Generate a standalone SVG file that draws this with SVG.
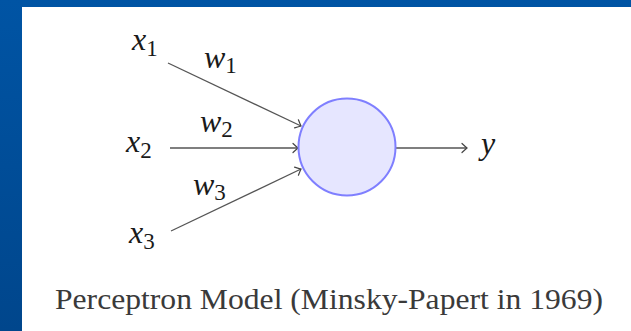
<svg xmlns="http://www.w3.org/2000/svg" width="631" height="331" viewBox="0 0 631 331">
<defs>
<linearGradient id="bg" x1="0" y1="0" x2="0" y2="1">
<stop offset="0" stop-color="#0054a4"/>
<stop offset="1" stop-color="#00468c"/>
</linearGradient>
<marker id="arr" markerUnits="userSpaceOnUse" markerWidth="14" markerHeight="14" refX="0" refY="0" viewBox="-10 -7 14 14" orient="auto">
<path d="M -5 -4.5 Q -1.5 -1.2 0 0 Q -1.5 1.2 -5 4.5" fill="none" stroke="#444" stroke-width="1.2" stroke-linecap="round"/>
</marker>
<style>
.m{font-style:italic;fill:#1a1a1a}
.big{font-size:32px}
.sub{font-size:23px;font-style:normal}
.ln{stroke:#555;stroke-width:1.3;fill:none;marker-end:url(#arr)}
.cap{font-size:30px;fill:#3a3a3a}
</style>
</defs>
<rect x="0" y="0" width="631" height="331" fill="url(#bg)"/>
<rect x="22" y="7" width="609" height="324" fill="#ffffff"/>
<g id="connectors">
<line class="ln" x1="168" y1="63" x2="301" y2="126"/>
<line class="ln" x1="170" y1="148" x2="298" y2="148"/>
<line class="ln" x1="171" y1="231" x2="301" y2="169"/>
<line class="ln" x1="396" y1="148" x2="467" y2="148"/>
</g>
<g id="neuron">
<circle cx="347" cy="147" r="48.5" fill="#e6e6ff" stroke="#7f7fff" stroke-width="2"/>
</g>
<g font-family="'Liberation Serif', 'DejaVu Serif', 'Times New Roman', serif">
<g id="x1"><text class="m big" x="132" y="50">x<tspan class="sub" dy="6">1</tspan></text></g>
<g id="x2"><text class="m big" x="126" y="152">x<tspan class="sub" dy="6">2</tspan></text></g>
<g id="x3"><text class="m big" x="129" y="243">x<tspan class="sub" dy="6">3</tspan></text></g>
<g id="w1"><text class="m big" x="204" y="68">w<tspan class="sub" dy="5">1</tspan></text></g>
<g id="w2"><text class="m big" x="200" y="132">w<tspan class="sub" dy="5">2</tspan></text></g>
<g id="w3"><text class="m big" x="193" y="195">w<tspan class="sub" dy="5">3</tspan></text></g>
<g id="y"><text class="m big" x="481" y="154">y</text></g>
<g id="caption"><text class="cap" x="55" y="309" textLength="548" lengthAdjust="spacingAndGlyphs">Perceptron Model (Minsky-Papert in 1969)</text></g>
</g>
</svg>
